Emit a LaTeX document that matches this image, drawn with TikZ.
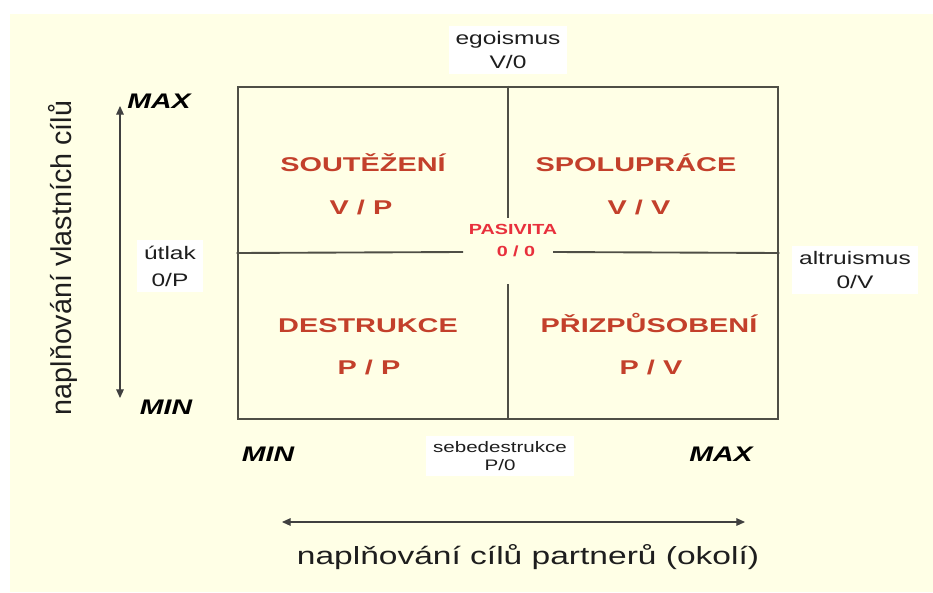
\documentclass[tikz,border=0pt]{standalone}
\usepackage{fontspec}
\newfontfamily\slidefont[FakeStretch=1.35]{Liberation Sans}
\newfontfamily\quadfont[FakeStretch=1.45]{Liberation Sans}
\newfontfamily\plainfont{Liberation Sans}
\usetikzlibrary{arrows.meta,positioning,calc}
\definecolor{SlideCream}{HTML}{FFFFE6}
\definecolor{FrameGray}{HTML}{4F4F46}
\definecolor{QuadRed}{HTML}{C3402B}
\definecolor{PasRed}{HTML}{E8303C}
\definecolor{LabelInk}{HTML}{1E1E1E}

\begin{document}
\begin{tikzpicture}[x=0.03cm,y=-0.03cm,
  frameline/.style={draw=FrameGray,line width=2.2pt,inner sep=0pt},
  divider/.style={draw=FrameGray,line width=1.6pt},
  quadname/.style={anchor=base,text=QuadRed,font=\quadfont\bfseries\fontsize{17}{20}\selectfont},
  pasname/.style={anchor=base,text=PasRed,font=\slidefont\bfseries\fontsize{12.5}{15}\selectfont},
  sidebox/.style={fill=white,align=center,text=LabelInk,inner xsep=0.2cm,inner ysep=0.16cm,
    font=\slidefont\fontsize{15.5}{20}\selectfont},
  maxmin/.style={anchor=base,text=black,font=\slidefont\bfseries\itshape\fontsize{18}{20}\selectfont},
  axisarrow/.style={draw=LabelInk!85,line width=0.9pt,{Triangle[length=0.26cm,width=0.23cm]}-{Triangle[length=0.26cm,width=0.23cm]}}]
  % slide background
  \useasboundingbox (0,0) rectangle (933,592);
  \fill[white] (0,0) rectangle (933,592);
  \fill[SlideCream] (10,14) rectangle (933,592);

  % the four fields
  \node[frameline,minimum width=16.2cm,minimum height=9.96cm] (grid) at (508,253) {};
  \coordinate (gapN) at (508,218);
  \coordinate (gapS) at (508,284);
  \coordinate (gapW) at (463,252);
  \coordinate (gapE) at (553,252);
  \draw[divider] (grid.north) -- (gapN);
  \draw[divider] (gapS) -- (grid.south);
  \draw[divider] (grid.west) -- (gapW);
  \draw[divider] (gapE) -- (grid.east);

  \node[quadname] (soutez) at (363,171) {SOUTĚŽENÍ};
  \node[quadname] (soutezVP) at (361,214) {V / P};
  \node[quadname] (spoluprace) at (636,171) {SPOLUPRÁCE};
  \node[quadname] (spolupraceVV) at (639,214) {V / V};
  \node[quadname] (destrukce) at (368,332) {DESTRUKCE};
  \node[quadname] (destrukcePP) at (369,374) {P / P};
  \node[quadname] (prizpusobeni) at (649,332) {PŘIZPŮSOBENÍ};
  \node[quadname] (prizpusobeniPV) at (651,374) {P / V};
  \node[pasname] (pasivita) at (513,234) {PASIVITA};
  \node[pasname] (pasivitaOO) at (516,256) {0 / 0};

  % extremes on the edges
  \node[sidebox] (egoismus) at (508,50) {egoismus\\V/0};
  \node[sidebox,font=\slidefont\fontsize{15.5}{23}\selectfont] (utlak) at (170,266) {útlak\\0/P};
  \node[sidebox] (altruismus) at (855,270) {altruismus\\0/V};
  \node[sidebox,font=\slidefont\fontsize{13}{16}\selectfont] (sebedestrukce) at (500,456) {sebedestrukce\\P/0};

  % axes
  \node[maxmin] (ymax) at (159,109) {MAX};
  \node[maxmin] (ymin) at (166,414) {MIN};
  \node[maxmin] (xmin) at (268,461) {MIN};
  \node[maxmin] (xmax) at (721,461) {MAX};
  \coordinate (vtop) at (120,106);
  \coordinate (vbot) at (120,398);
  \draw[axisarrow] (vtop) -- (vbot);
  \coordinate (hleft) at (282,522);
  \coordinate (hright) at (745,522);
  \draw[axisarrow] (hleft) -- (hright);

  \node[rotate=90,text=LabelInk,font=\plainfont\fontsize{24.5}{27}\selectfont] (ownGoals) at (63,258) {naplňování vlastních cílů};
  \node[anchor=base,text=LabelInk,font=\slidefont\fontsize{21.2}{25}\selectfont] (partnerGoals) at (528,564) {naplňování cílů partnerů (okolí)};
\end{tikzpicture}
\end{document}
